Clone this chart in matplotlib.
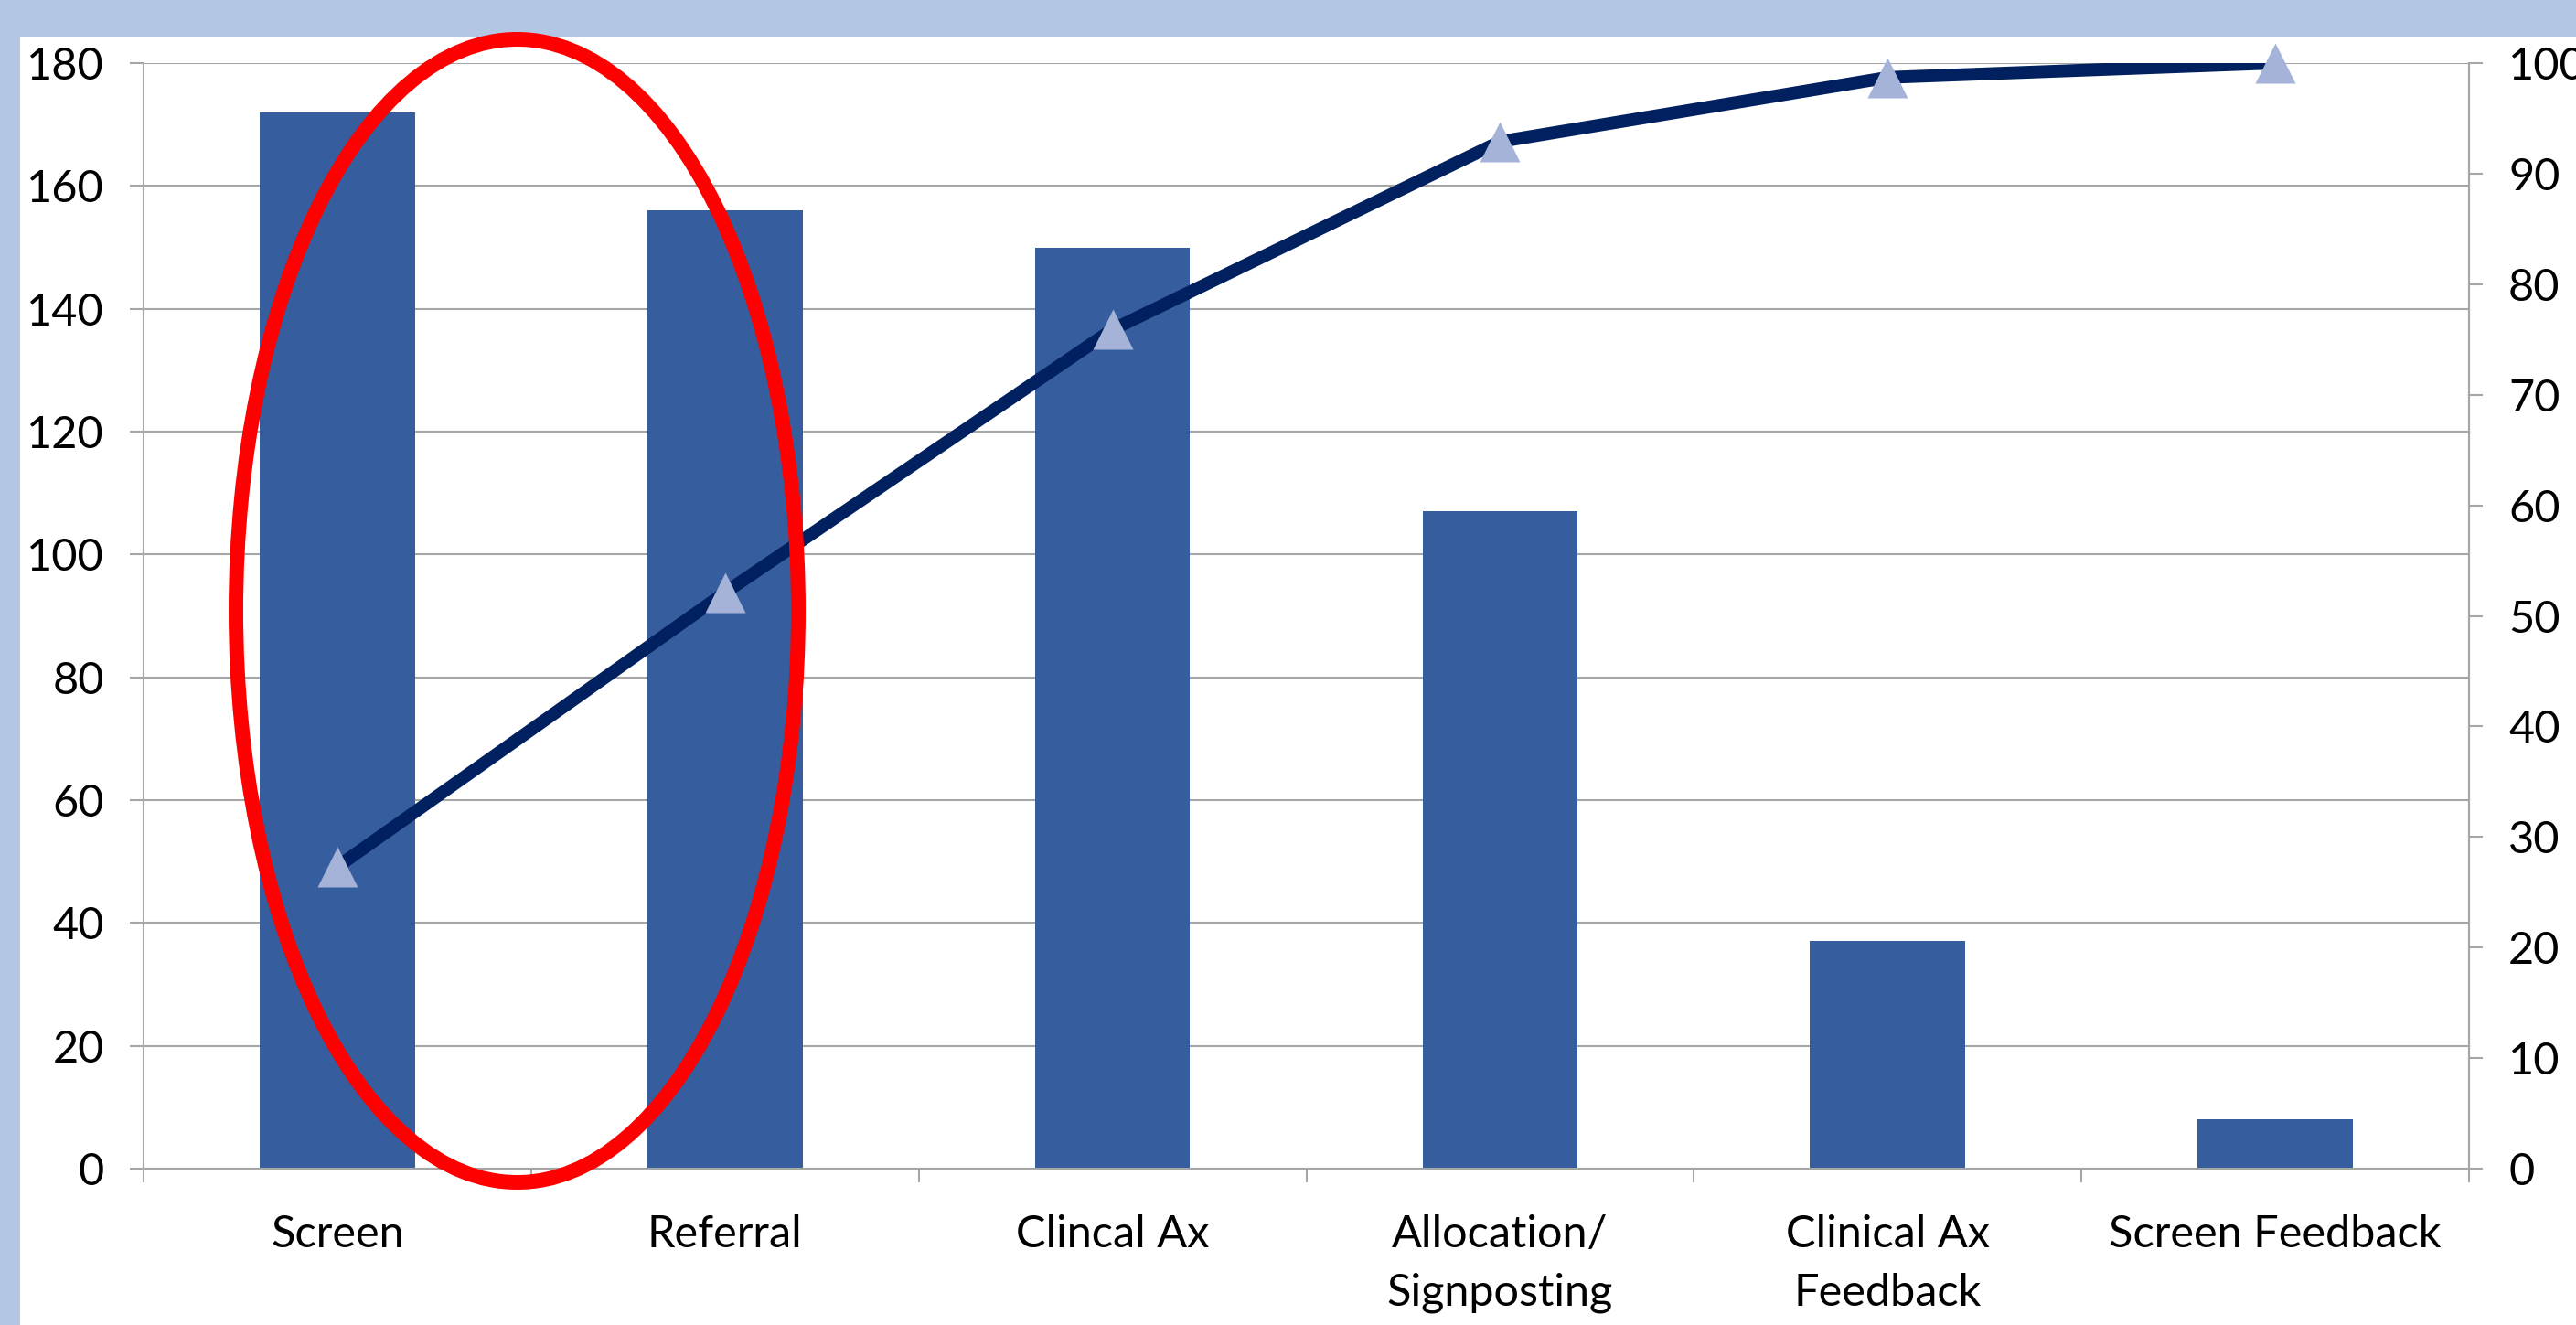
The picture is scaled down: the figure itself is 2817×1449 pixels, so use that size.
import matplotlib
matplotlib.use("Agg")
import matplotlib.pyplot as plt
from matplotlib.patches import Ellipse, Rectangle
from matplotlib.ticker import FixedLocator, NullFormatter

plt.rcParams['font.family'] = ['Lato', 'DejaVu Sans']

categories = ["Screen", "Referral", "Clincal Ax", "Allocation/\nSignposting",
              "Clinical Ax\nFeedback", "Screen Feedback"]
counts = [172, 156, 150, 107, 37, 8]
cumulative_pct = [27.3, 52.1, 75.9, 92.9, 98.7, 100.0]
left_ticks = list(range(0, 181, 20))
right_ticks = list(range(0, 101, 10))

W, H, DPI = 2817, 1449, 100
fig = plt.figure(figsize=(W / DPI, H / DPI), dpi=DPI)
fig.patch.set_facecolor("white")

# light blue frame (top & left)
band = "#B3C6E4"
fig.patches.append(Rectangle((0, 1 - 40 / H), 1, 40 / H, transform=fig.transFigure,
                             facecolor=band, edgecolor="none", zorder=0))
fig.patches.append(Rectangle((0, 0), 22 / W, 1, transform=fig.transFigure,
                             facecolor=band, edgecolor="none", zorder=0))

left, right, bottom, top = 157 / W, 2700 / W, 1 - 1278 / H, 1 - 69 / H
ax = fig.add_axes([left, bottom, right - left, top - bottom])
ax.set_facecolor("white")

grid_c = "#A6A6A6"
x = list(range(len(categories)))
ax.bar(x, counts, width=0.40, color="#365E9F", zorder=2)
ax.set_xlim(-0.5, len(categories) - 0.5)
ax.set_ylim(0, 180)
ax.set_yticks(left_ticks)
ax.yaxis.grid(True, color=grid_c, linewidth=1.5, zorder=0)
ax.set_axisbelow(True)

# x ticks at category boundaries, labels at centres
ax.xaxis.set_major_locator(FixedLocator([i - 0.5 for i in range(len(categories) + 1)]))
ax.xaxis.set_major_formatter(NullFormatter())
ax.xaxis.set_minor_locator(FixedLocator(x))
ax.set_xticklabels(categories, minor=True)
ax.tick_params(axis="x", which="major", length=11, width=1.5, color=grid_c, direction="out")
ax.tick_params(axis="x", which="minor", length=0, pad=36, labelsize=35)
ax.tick_params(axis="y", length=11, width=1.5, color=grid_c, direction="out",
               labelsize=35, pad=20)
for lbl in ax.get_xticklabels(minor=True):
    lbl.set_linespacing(1.55)

ax.spines["top"].set_visible(False)
for s in ["left", "bottom", "right"]:
    ax.spines[s].set_color(grid_c)
    ax.spines[s].set_linewidth(1.5)

ax2 = ax.twinx()
ax2.set_ylim(0, 100)
ax2.set_yticks(right_ticks)
ax2.tick_params(axis="y", length=11, width=1.5, color=grid_c, direction="out",
                labelsize=35, pad=20)
for s in ["top", "left", "bottom"]:
    ax2.spines[s].set_visible(False)
ax2.spines["right"].set_color(grid_c)
ax2.spines["right"].set_linewidth(1.5)

ax2.plot(x, cumulative_pct, color="#00205F", linewidth=10, solid_capstyle="butt",
         zorder=3, clip_on=True)
ax2.plot(x, cumulative_pct, linestyle="none", marker="^", markersize=31,
         markerfacecolor="#A5B3D9", markeredgecolor="none", zorder=4, clip_on=False)

# red highlight ellipse
ell = Ellipse((565.5 / W, 1 - 668 / H), 615 / W, 1250 / H, transform=fig.transFigure,
              fill=False, edgecolor="#FF0000", linewidth=11.5, zorder=10)
fig.patches.append(ell)

fig.savefig("out.png", dpi=DPI, facecolor=fig.get_facecolor())
